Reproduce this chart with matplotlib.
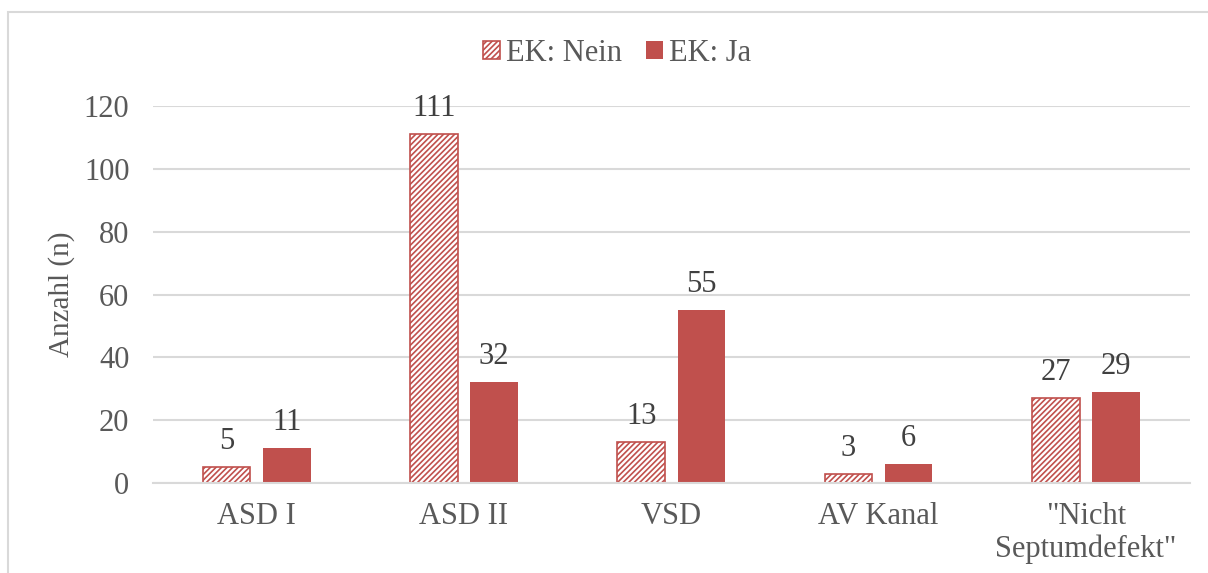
import matplotlib.pyplot as plt
import numpy as np
from matplotlib.patches import Rectangle

categories = ['ASD I', 'ASD II', 'VSD', 'AV Kanal', '"Nicht\nSeptumdefekt"']
ek_nein = [5, 111, 13, 3, 27]
ek_ja = [11, 32, 55, 6, 29]

red = '#C0504D'
grid_grey = '#D9D9D9'
text_grey = '#595959'

plt.rcParams['font.family'] = ['Liberation Serif', 'DejaVu Serif']
plt.rcParams['hatch.linewidth'] = 1.2
plt.rcParams['hatch.color'] = red

fig = plt.figure(figsize=(12.08, 5.73), dpi=100)
ax = fig.add_axes([0.1267, 0.157, 0.858, 0.658])

# outer chart frame (left/top only visible)
fig.patches.append(Rectangle((8 / 1208, -0.01), 1.05, 1 - 12 / 573 + 0.01,
                             transform=fig.transFigure, fill=False,
                             edgecolor=grid_grey, linewidth=1.5))

x = np.arange(len(categories))
w = 0.23
off = 0.145
b1 = ax.bar(x - off, ek_nein, w, facecolor='white', edgecolor=red,
            hatch='//////', linewidth=1.2, label='EK: Nein')
b2 = ax.bar(x + off, ek_ja, w, color=red, label='EK: Ja')

ax.bar_label(b1, fontsize=22, color='#404040', padding=8)
ax.bar_label(b2, fontsize=22, color='#404040', padding=8)

ax.set_xlim(-0.5, len(categories) - 0.5)
ax.set_ylim(0, 120)
ax.set_yticks(range(0, 121, 20))
ax.set_xticks(x)
ax.set_xticklabels(categories, linespacing=1.15)
ax.tick_params(length=0, labelsize=22, labelcolor=text_grey)
ax.tick_params(axis='y', pad=17)
ax.tick_params(axis='x', pad=14)
ax.yaxis.grid(True, color=grid_grey, linewidth=1.5)
ax.set_axisbelow(True)
for s in ['top', 'right', 'left']:
    ax.spines[s].set_visible(False)
ax.spines['bottom'].set_color(grid_grey)
ax.spines['bottom'].set_linewidth(1.5)

ax.set_ylabel('Anzahl (n)', fontsize=21, color=text_grey, labelpad=6)

fig.legend(handles=[b1, b2], loc='center', bbox_to_anchor=(0.511, 0.907),
           ncol=2, frameon=False, fontsize=22, labelcolor=text_grey,
           handlelength=0.55, handleheight=0.55, handletextpad=0.2,
           columnspacing=0.8)

fig.savefig('out.png', dpi=100)
